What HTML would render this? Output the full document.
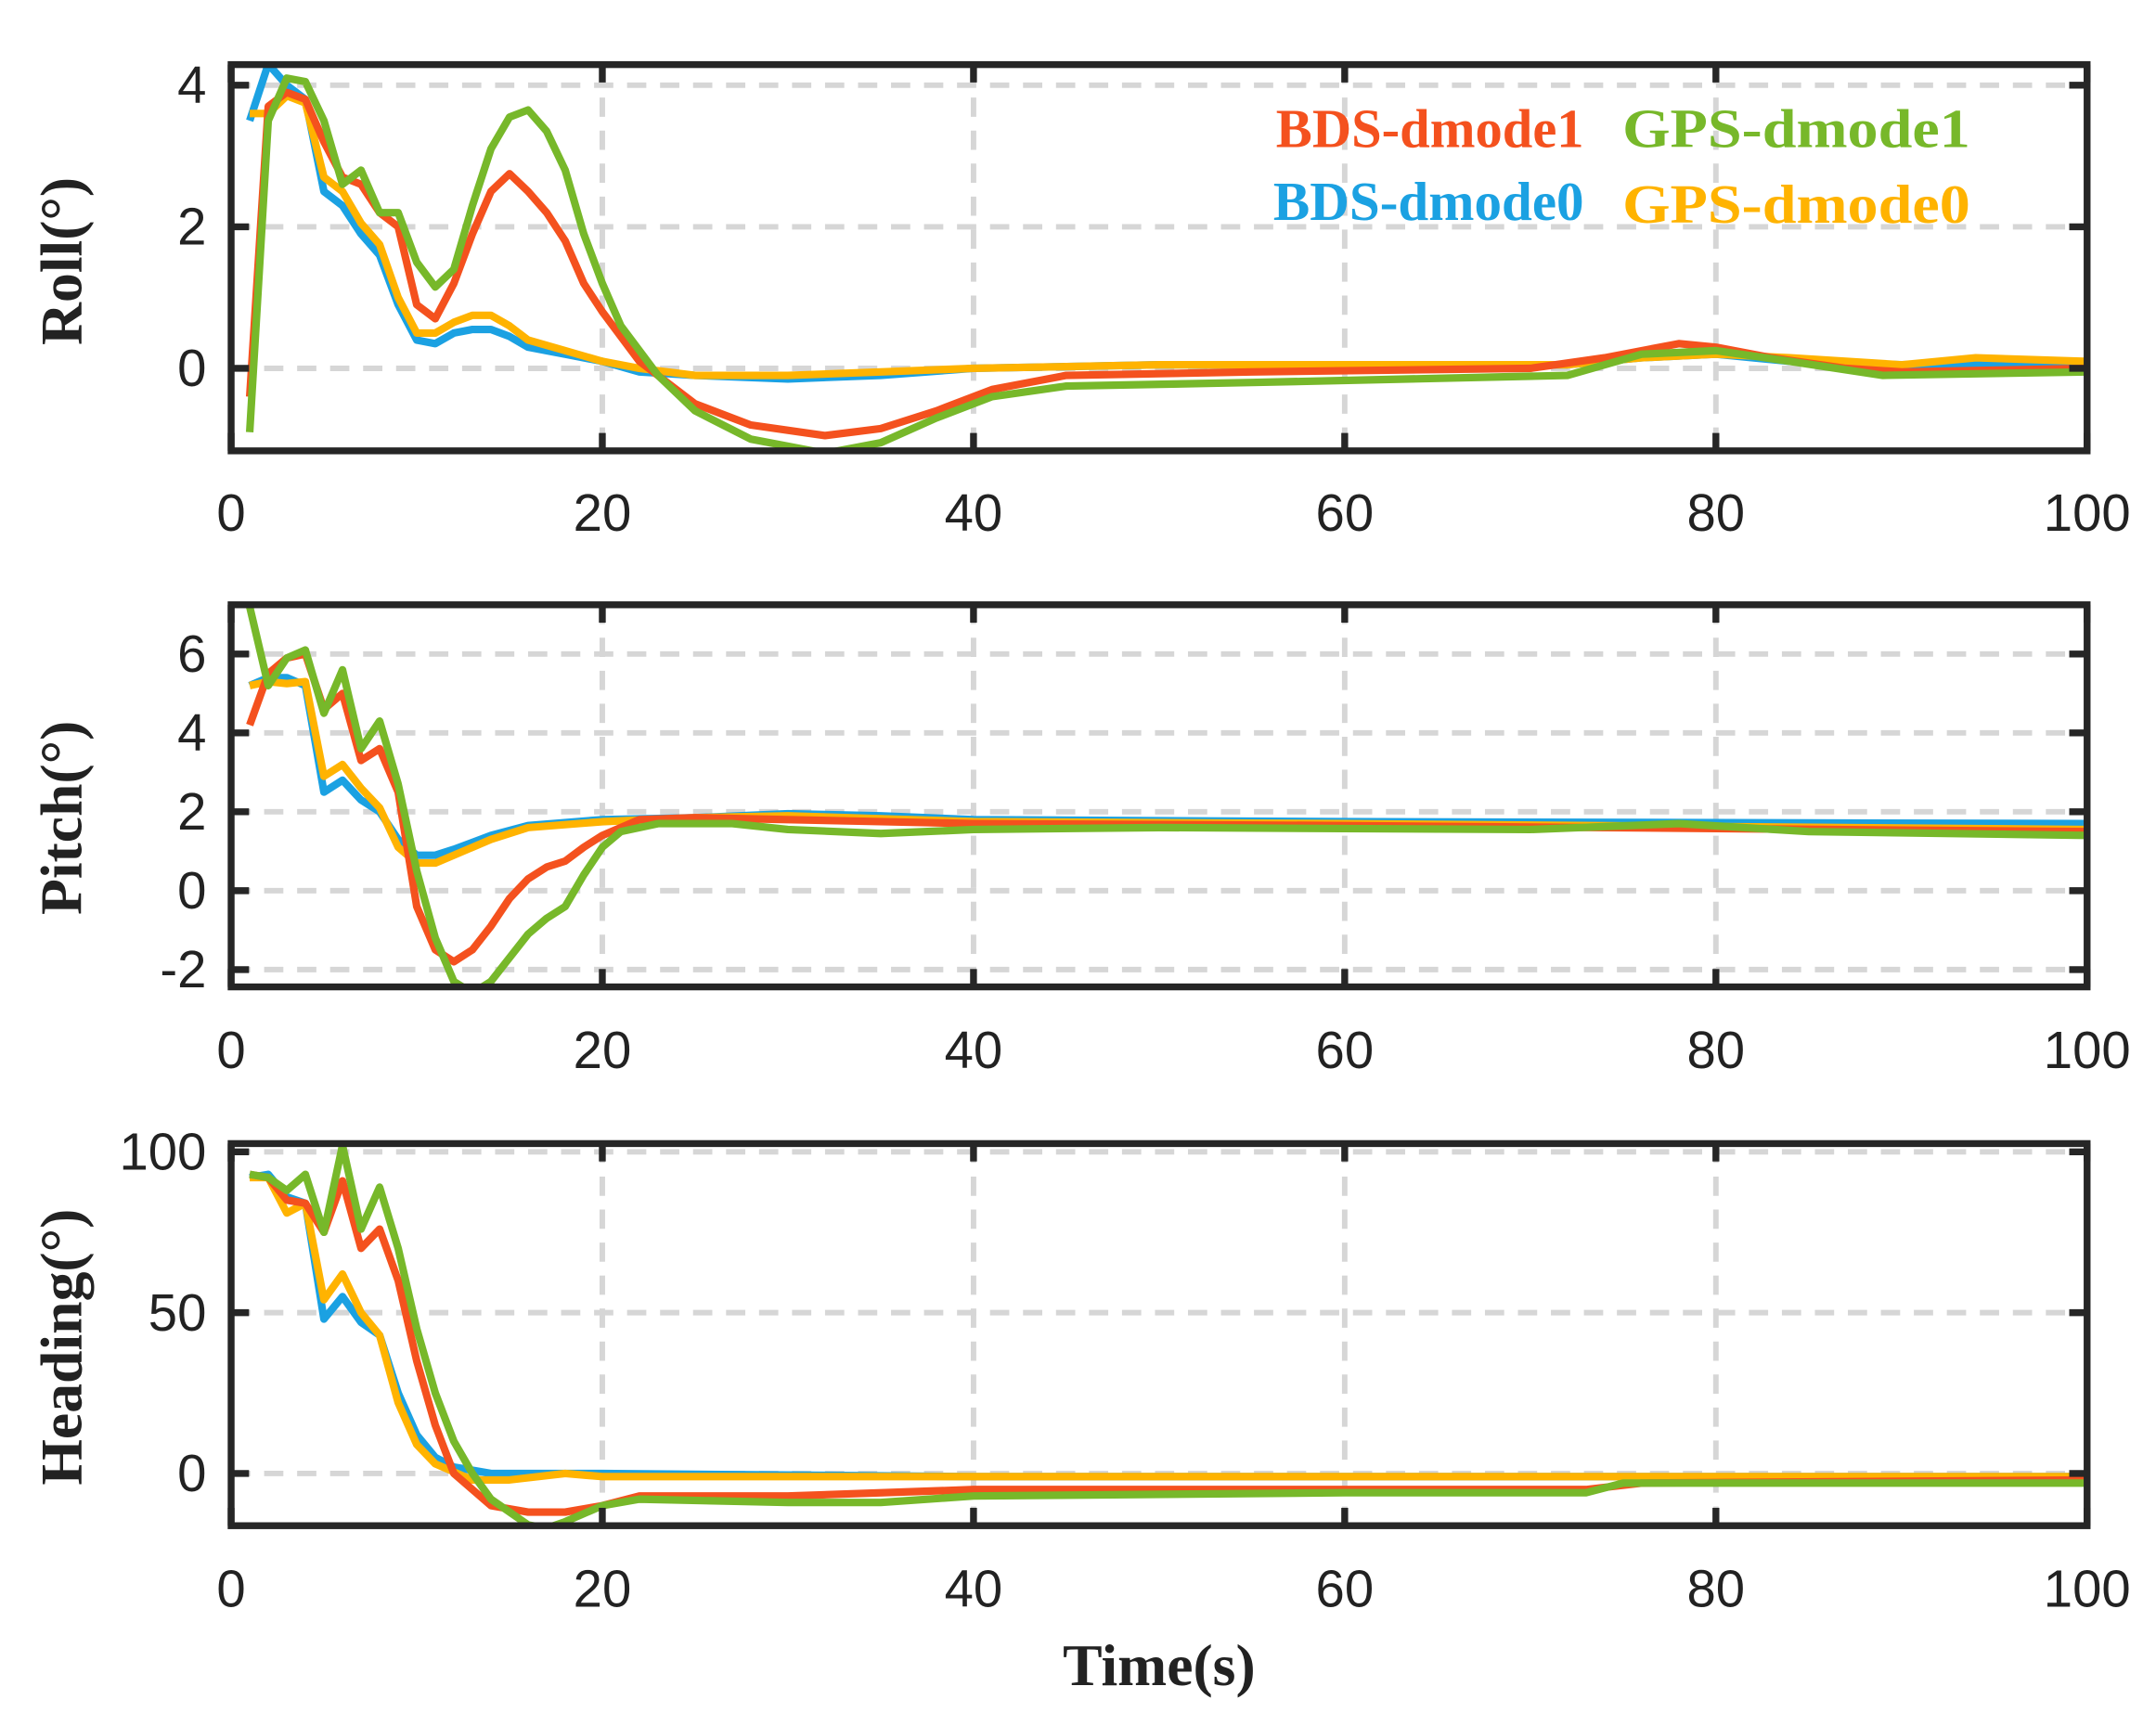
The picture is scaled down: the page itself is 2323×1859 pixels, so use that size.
<!DOCTYPE html>
<html><head><meta charset="utf-8"><style>
html,body{margin:0;padding:0;background:#fff}
svg{display:block}
.tk{font-family:"Liberation Sans",sans-serif;font-size:38px;fill:#222}
.yl{font-family:"Liberation Serif",serif;font-weight:bold;font-size:43px;fill:#222}
.lg{font-family:"Liberation Serif",serif;font-weight:bold;font-size:40px}
</style></head><body>
<svg id="s" width="2323" height="1859" viewBox="0 0 1568 1255" xmlns="http://www.w3.org/2000/svg">
<rect width="1568" height="1255" fill="#fff"/>
<g id="g"></g>
<text class="lg" x="928" y="107" fill="#F4511E" textLength="224" lengthAdjust="spacingAndGlyphs">BDS-dmode1</text>
<text class="lg" x="1180" y="107" fill="#77B82A" textLength="253" lengthAdjust="spacingAndGlyphs">GPS-dmode1</text>
<text class="lg" x="926" y="160" fill="#1BA1E2" textLength="226" lengthAdjust="spacingAndGlyphs">BDS-dmode0</text>
<text class="lg" x="1180" y="162" fill="#FFB300" textLength="253" lengthAdjust="spacingAndGlyphs">GPS-dmode0</text>
<text class="yl" x="843" y="1226" text-anchor="middle">Time(s)</text>
<text class="yl" transform="translate(59,190) rotate(-90)" text-anchor="middle">Roll(°)</text>
<text class="yl" transform="translate(59,595) rotate(-90)" text-anchor="middle">Pitch(°)</text>
<text class="yl" transform="translate(59,980) rotate(-90)" text-anchor="middle">Heading(°)</text>
</svg>
<script>
var NS="http://www.w3.org/2000/svg",G=document.getElementById("g");
function el(t,a,txt){var e=document.createElementNS(NS,t);for(var k in a)e.setAttribute(k,a[k]);if(txt!=null)e.textContent=txt;G.appendChild(e);return e;}
var X0=168,X1=1518;function X(t){return X0+(X1-X0)*t/100;}
var panels=[
{top:47,bot:328,v0:0,y0:268,ppu:51.5,yt:[0,2,4],lab:[[4,"4"],[2,"2"],[0,"0"]],xl:372,
s:{r:[[1,-0.4],[2,3.7],[3,3.9],[4,3.8],[5,3.2],[6,2.7],[7,2.6],[8,2.2],[9,2.0],[10,0.9],[11,0.7],[12,1.2],[13,1.9],[14,2.5],[15,2.75],[16,2.5],[17,2.2],[18,1.8],[19,1.2],[20,0.8],[22,0.1],[25,-0.5],[28,-0.8],[32,-0.95],[35,-0.85],[38,-0.6],[41,-0.3],[45,-0.1],[55,-0.05],[70,0],[74,0.15],[78,0.35],[80,0.3],[83,0.15],[87,0],[90,-0.05],[100,0]],
g:[[1,-0.9],[2,3.5],[3,4.1],[4,4.05],[5,3.5],[6,2.6],[7,2.8],[8,2.2],[9,2.2],[10,1.5],[11,1.15],[12,1.4],[13,2.3],[14,3.1],[15,3.55],[16,3.65],[17,3.35],[18,2.8],[19,1.9],[20,1.2],[21,0.6],[23,-0.1],[25,-0.6],[28,-1.0],[32,-1.2],[35,-1.05],[38,-0.7],[41,-0.4],[45,-0.25],[55,-0.2],[72,-0.1],[76,0.2],[80,0.25],[84,0.1],[89,-0.1],[100,-0.05]],
b:[[1,3.5],[2,4.3],[3,4.0],[4,3.8],[5,2.5],[6,2.3],[7,1.9],[8,1.6],[9,0.9],[10,0.4],[11,0.35],[12,0.5],[13,0.55],[14,0.55],[15,0.45],[16,0.3],[18,0.2],[20,0.1],[22,-0.05],[25,-0.1],[30,-0.15],[35,-0.1],[40,0],[50,0.05],[72,0.05],[76,0.15],[80,0.2],[84,0.1],[90,0.05],[100,0.1]],
o:[[1,3.6],[2,3.6],[3,3.85],[4,3.75],[5,2.7],[6,2.5],[7,2.05],[8,1.75],[9,1.0],[10,0.5],[11,0.5],[12,0.65],[13,0.75],[14,0.75],[15,0.6],[16,0.4],[18,0.25],[20,0.1],[22,0],[25,-0.1],[30,-0.1],[35,-0.05],[40,0],[50,0.05],[72,0.05],[76,0.15],[80,0.2],[84,0.15],[90,0.05],[94,0.15],[100,0.1]]}},
{top:440,bot:718,v0:0,y0:648,ppu:28.7,yt:[-2,0,2,4,6],lab:[[6,"6"],[4,"4"],[2,"2"],[0,"0"],[-2,"-2"]],xl:763,
s:{r:[[1,4.2],[2,5.5],[3,5.9],[4,6.0],[5,4.6],[6,5.0],[7,3.3],[8,3.6],[9,2.5],[10,-0.4],[11,-1.5],[12,-1.8],[13,-1.5],[14,-0.9],[15,-0.2],[16,0.3],[17,0.6],[18,0.75],[19,1.1],[20,1.4],[22,1.8],[25,1.85],[30,1.8],[40,1.7],[60,1.65],[100,1.5]],
g:[[1,7.2],[2,5.2],[3,5.9],[4,6.1],[5,4.5],[6,5.6],[7,3.6],[8,4.3],[9,2.7],[10,0.5],[11,-1.2],[12,-2.3],[13,-2.6],[14,-2.3],[15,-1.7],[16,-1.1],[17,-0.7],[18,-0.4],[19,0.4],[20,1.1],[21,1.5],[23,1.7],[27,1.7],[30,1.55],[35,1.45],[40,1.55],[50,1.6],[70,1.55],[78,1.7],[85,1.5],[100,1.4]],
b:[[1,5.2],[2,5.4],[3,5.4],[4,5.2],[5,2.5],[6,2.8],[7,2.3],[8,2.0],[9,1.3],[10,0.9],[11,0.9],[12,1.05],[14,1.4],[16,1.65],[20,1.8],[25,1.85],[30,1.95],[35,1.9],[40,1.8],[60,1.75],[100,1.7]],
o:[[1,5.2],[2,5.3],[3,5.25],[4,5.3],[5,2.9],[6,3.2],[7,2.6],[8,2.1],[9,1.1],[10,0.7],[11,0.7],[12,0.9],[14,1.3],[16,1.6],[20,1.75],[25,1.85],[30,1.9],[40,1.75],[60,1.7],[100,1.55]]}},
{top:832,bot:1110,v0:0,y0:1072,ppu:2.34,yt:[0,50,100],lab:[[100,"100"],[50,"50"],[0,"0"]],xl:1155,
s:{r:[[1,93],[2,92],[3,85],[4,84],[5,75],[6,91],[7,70],[8,76],[9,60],[10,35],[11,15],[12,0],[14,-10],[16,-12],[18,-12],[20,-10],[22,-7],[30,-7],[40,-5],[60,-5],[73,-5],[76,-3],[100,-2]],
g:[[1,93],[2,92],[3,88],[4,93],[5,75],[6,102],[7,76],[8,89],[9,70],[10,45],[11,25],[12,10],[13,0],[14,-8],[16,-16],[17,-17],[18,-15],[20,-10],[22,-8],[30,-9],[35,-9],[40,-7],[60,-6],[73,-6],[75,-3],[80,-3],[100,-3]],
b:[[1,92],[2,93],[3,86],[4,84],[5,48],[6,55],[7,47],[8,43],[9,25],[10,12],[11,5],[12,2],[14,0],[20,0],[40,-1],[100,-1]],
o:[[1,92],[2,92],[3,81],[4,84],[5,54],[6,62],[7,50],[8,43],[9,22],[10,9],[11,3],[13,-2],[15,-2],[18,0],[20,-1],[40,-1],[100,-1]]}}
];
var cols={r:"#F4511E",g:"#77B82A",b:"#1BA1E2",o:"#FFB300"};
panels.forEach(function(p){
 function Y(v){return p.y0-(v-p.v0)*p.ppu;}
 var cid="c"+p.top;
 var cp=el("clipPath",{id:cid});cp.appendChild((function(){var r=document.createElementNS(NS,"rect");r.setAttribute("x",X0);r.setAttribute("y",p.top);r.setAttribute("width",X1-X0);r.setAttribute("height",p.bot-p.top);return r;})());
 for(var t=20;t<100;t+=20)el("line",{x1:X(t),x2:X(t),y1:p.top,y2:p.bot,stroke:"#d6d6d6","stroke-width":4,"stroke-dasharray":"14,10"});
 p.yt.forEach(function(v){el("line",{x1:X0,x2:X1,y1:Y(v),y2:Y(v),stroke:"#d6d6d6","stroke-width":4,"stroke-dasharray":"14,10"});});
 ["b","o","r","g"].forEach(function(k){
  var pts=p.s[k].map(function(q){return X(q[0]).toFixed(1)+","+Y(q[1]).toFixed(1);}).join(" ");
  el("polyline",{points:pts,fill:"none",stroke:cols[k],"stroke-width":5.5,"stroke-linejoin":"round","clip-path":"url(#"+cid+")"});
 });
 el("rect",{x:X0,y:p.top,width:X1-X0,height:p.bot-p.top,fill:"none",stroke:"#262626","stroke-width":5});
 for(var t=0;t<=100;t+=20){
  el("line",{x1:X(t),x2:X(t),y1:p.bot,y2:p.bot-13,stroke:"#262626","stroke-width":5});
  el("line",{x1:X(t),x2:X(t),y1:p.top,y2:p.top+13,stroke:"#262626","stroke-width":5});
  el("text",{class:"tk",x:X(t),y:p.xl+14,"text-anchor":"middle"},""+t);
 }
 p.lab.forEach(function(l){
  var y=Y(l[0]);
  el("line",{x1:X0,x2:X0+13,y1:y,y2:y,stroke:"#262626","stroke-width":5});
  el("line",{x1:X1,x2:X1-13,y1:y,y2:y,stroke:"#262626","stroke-width":5});
  el("text",{class:"tk",x:150,y:y+13,"text-anchor":"end"},l[1]);
 });
});
</script>
</body></html>
